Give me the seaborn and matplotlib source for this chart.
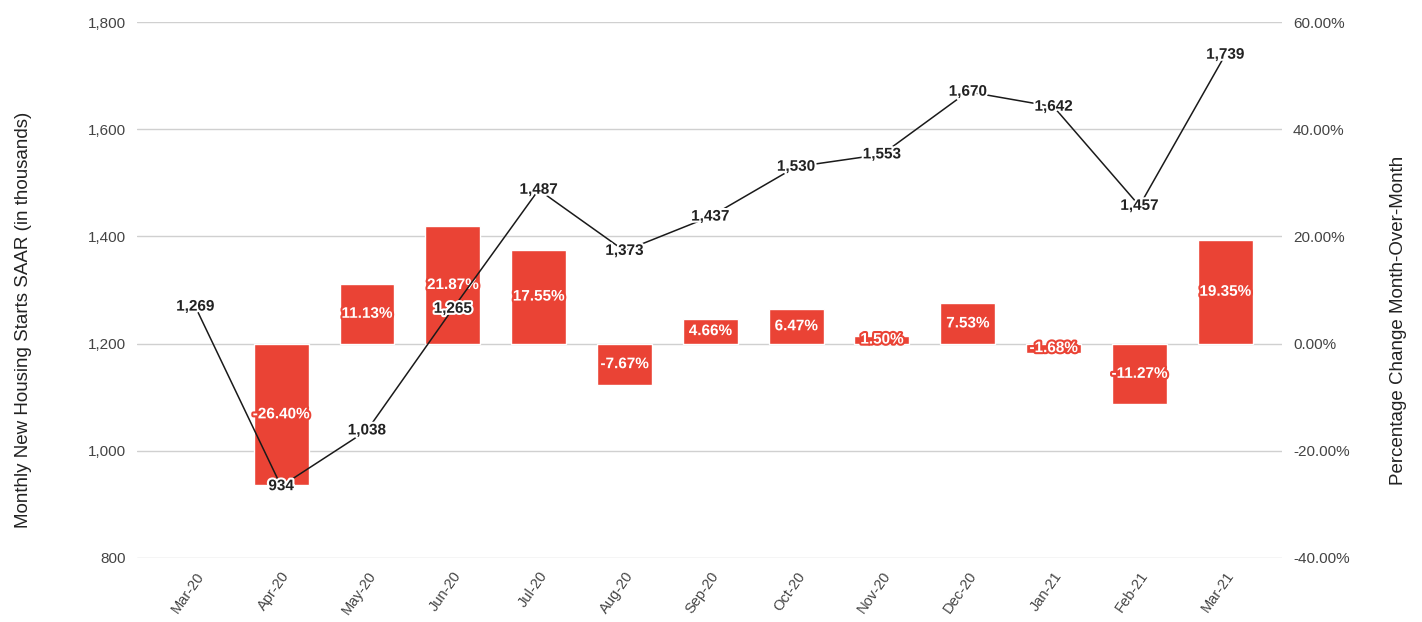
import matplotlib
matplotlib.use("Agg")
import matplotlib.pyplot as plt
import matplotlib.patheffects as pe
import matplotlib.ticker as mticker
import seaborn as sns
import pandas as pd
import numpy as np

# data
months = ["Mar-20", "Apr-20", "May-20", "Jun-20", "Jul-20", "Aug-20", "Sep-20",
          "Oct-20", "Nov-20", "Dec-20", "Jan-21", "Feb-21", "Mar-21"]
starts = [1269, 934, 1038, 1265, 1487, 1373, 1437, 1530, 1553, 1670, 1642, 1457, 1739]
pct_change = [np.nan, -26.40, 11.13, 21.87, 17.55, -7.67, 4.66, 6.47, 1.50, 7.53,
              -1.68, -11.27, 19.35]

RED = "#EA4335"
GRID = "#d0d0d0"
TICK = "#444444"

df = pd.DataFrame({"month": months, "starts": starts, "pct": pct_change})
df["pos"] = np.arange(len(df))

sns.set_theme(style="white")
plt.rcParams["font.family"] = ["Liberation Sans", "DejaVu Sans"]

fig = plt.figure(figsize=(14.22, 6.22), dpi=100)
ax = fig.add_axes([0.0963, 0.1029, 0.8052, 0.8617])   # bars, right axis
ax_line = ax.twinx()                                  # line, left axis

# bars (percent change) on the right-hand scale
sns.barplot(data=df, x="pos", y="pct", color=RED, width=0.64, saturation=1,
            native_scale=True, ax=ax)
ax.yaxis.tick_right()
ax.yaxis.set_label_position("right")
ax.set_ylim(-40, 60)
ax.set_yticks([-40, -20, 0, 20, 40, 60])
ax.yaxis.set_major_formatter(mticker.FuncFormatter(lambda v, p: f"{v:.2f}%"))
ax.set_axisbelow(True)
ax.grid(axis="y", color=GRID, linewidth=1)
ax.set_ylabel("Percentage Change Month-Over-Month", fontsize=13.5, color="#222222")
ax.yaxis.set_label_coords(1.094, 0.444)

# line (housing starts) on the left-hand scale
sns.lineplot(data=df, x="pos", y="starts", color="#1a1a1a", linewidth=1.1, ax=ax_line)
ax_line.yaxis.tick_left()
ax_line.yaxis.set_label_position("left")
ax_line.set_ylim(800, 1800)
ax_line.set_yticks([800, 1000, 1200, 1400, 1600, 1800])
ax_line.yaxis.set_major_formatter(mticker.FuncFormatter(lambda v, p: f"{v:,.0f}"))
ax_line.set_ylabel("Monthly New Housing Starts SAAR (in thousands)", fontsize=13.5,
                   color="#222222")
ax_line.yaxis.set_label_coords(-0.092, 0.444)
ax_line.grid(False)

for a in (ax, ax_line):
    a.set_xlim(-0.68, 12.66)
    for s in a.spines.values():
        s.set_visible(False)
    a.tick_params(axis="y", length=0, labelsize=11, labelcolor=TICK, pad=8)

ax.set_xticks(df["pos"])
ax.set_xticklabels(months, rotation=55, ha="right", rotation_mode="anchor")
ax.tick_params(axis="x", length=0, labelsize=10.5, labelcolor=TICK, pad=8)
ax.set_xlabel("")
ax_line.set_xlabel("")
ax_line.tick_params(axis="x", bottom=False, labelbottom=False, top=False, labeltop=False)

# bar labels: white with red outline, centred in the bar
for x, v in zip(df["pos"], df["pct"]):
    if np.isnan(v):
        continue
    ax.text(x, v / 2, f"{v:.2f}%", ha="center", va="center", fontsize=11,
            fontweight="bold", color="white",
            path_effects=[pe.withStroke(linewidth=3, foreground=RED)])

# line labels: dark text with white halo, centred on the point
for x, v in zip(df["pos"], df["starts"]):
    ax_line.text(x, v, f"{v:,}", ha="center", va="center", fontsize=11,
                 fontweight="bold", color="#222222",
                 path_effects=[pe.withStroke(linewidth=3, foreground="white")])

fig.savefig("out.png", dpi=100)
